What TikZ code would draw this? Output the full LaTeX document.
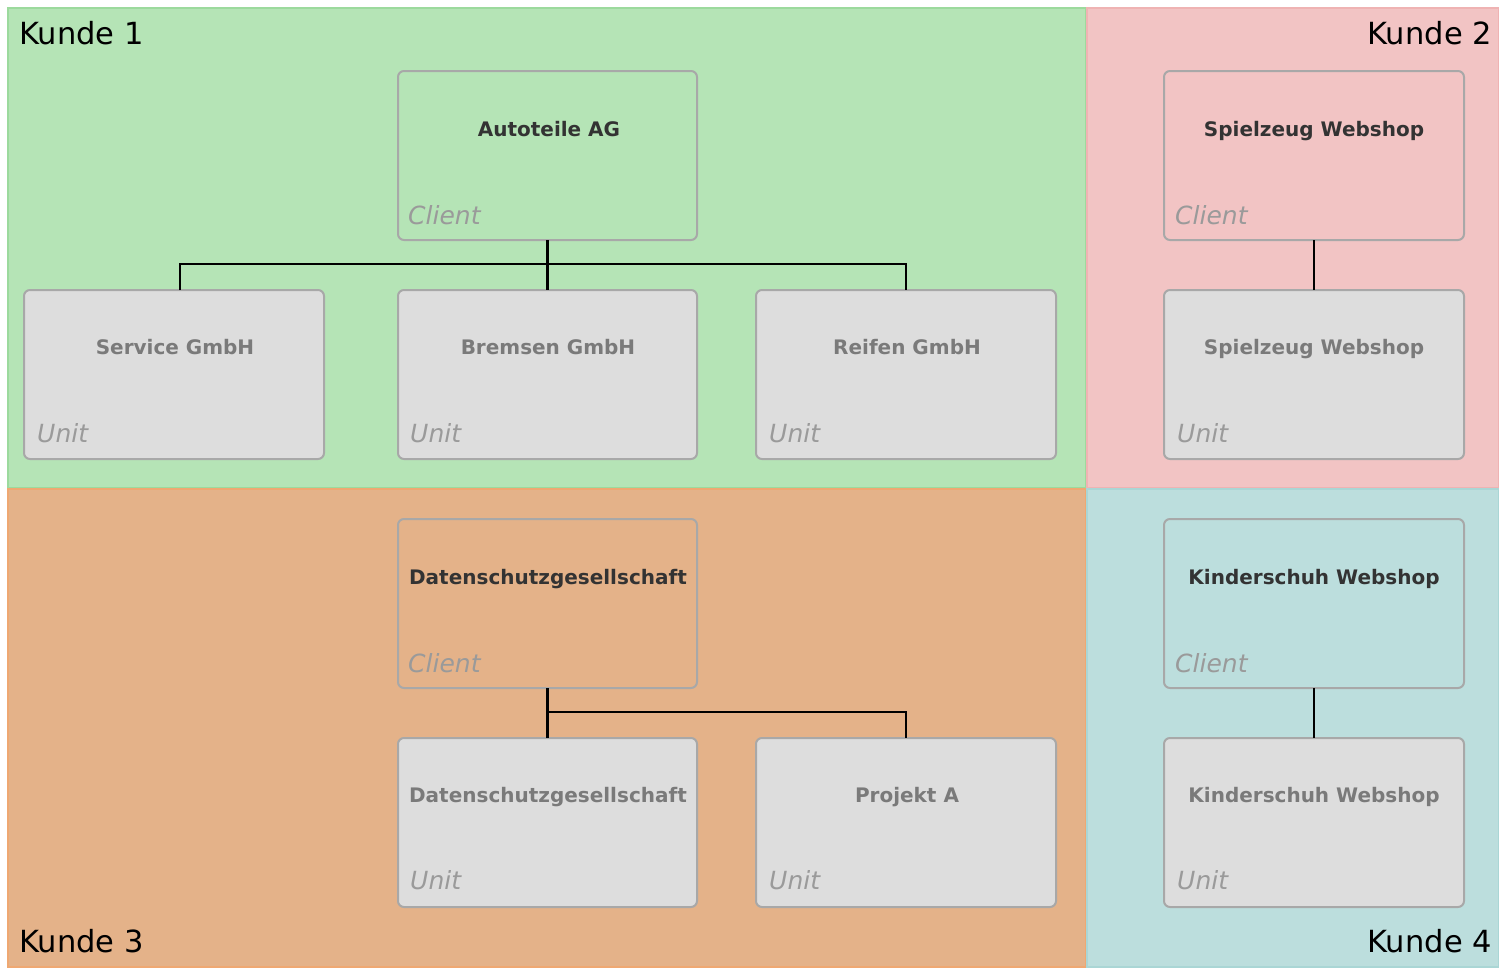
\documentclass[tikz,border=0pt]{standalone}
\usepackage{fontspec}
\usetikzlibrary{calc}
\setmainfont{DejaVu Sans}
\definecolor{kgreen}{HTML}{B5E4B6}
\definecolor{kgreenb}{HTML}{9CDA9D}
\definecolor{kpink}{HTML}{F2C4C4}
\definecolor{kpinkb}{HTML}{EFB3B3}
\definecolor{korange}{HTML}{E4B289}
\definecolor{korangeb}{HTML}{EFA872}
\definecolor{kteal}{HTML}{BCDEDD}
\definecolor{ktealb}{HTML}{AAD6D5}
\definecolor{boxline}{HTML}{A8A8A8}
\definecolor{unitfill}{HTML}{DDDDDD}
\definecolor{titledark}{HTML}{333333}
\definecolor{titlegray}{HTML}{7A7A7A}
\definecolor{typegray}{HTML}{9A9A9A}
\tikzset{
  region/.style={line width=1.5pt},
  orgbox/.style={draw=boxline, line width=2pt, rounded corners=6pt, minimum width=299pt, minimum height=169pt, inner sep=0pt, outer sep=0pt, anchor=north west},
  clientbox/.style={orgbox},
  unitbox/.style={orgbox, fill=unitfill},
  ctitle/.style={font=\fontsize{20}{23}\selectfont\bfseries, text=titledark, anchor=base, inner sep=0pt},
  utitle/.style={font=\fontsize{20}{23}\selectfont\bfseries, text=titlegray, anchor=base, inner sep=0pt},
  typelbl/.style={font=\fontsize{25}{29}\selectfont\itshape, text=typegray, anchor=base west, inner sep=0pt},
  kunde/.style={font=\fontsize{30.5}{34}\selectfont, text=black, inner sep=0pt},
  conn/.style={draw=black, line width=2.2pt}
}
\begin{document}
\begin{tikzpicture}[x=1pt,y=-1pt]
\useasboundingbox (0,0) rectangle (1499,967);
\fill[white] (0,0) rectangle (1499,967);
% regions
\filldraw[region, fill=kgreen, draw=kgreenb] (8,8) rectangle (1086,488);
\filldraw[region, fill=kpink, draw=kpinkb] (1087,8) rectangle (1499,488);
\filldraw[region, fill=korange, draw=korangeb] (8,489) rectangle (1086,967);
\filldraw[region, fill=kteal, draw=ktealb] (1087,489) rectangle (1499,967);
% region labels
\node[kunde, anchor=base west] (k1) at (19,44) {Kunde 1};
\node[kunde, anchor=base east] (k2) at (1492,44) {Kunde 2};
\node[kunde, anchor=base west] (k3) at (19,952) {Kunde 3};
\node[kunde, anchor=base east] (k4) at (1492,952) {Kunde 4};
% Kunde 1
\node[clientbox] (c1) at (398,71) {};
\node[ctitle] (c1t) at (549,136) {Autoteile AG};
\node[typelbl] (c1l) at (408,224) {Client};
\node[unitbox, minimum width=300pt] (u11) at (24,290) {};
\node[utitle] (u11t) at (175,354) {Service GmbH};
\node[typelbl] (u11l) at (37,442) {Unit};
\node[unitbox] (u12) at (398,290) {};
\node[utitle] (u12t) at (548,354) {Bremsen GmbH};
\node[typelbl] (u12l) at (410,442) {Unit};
\node[unitbox, minimum width=300pt] (u13) at (756,290) {};
\node[utitle] (u13t) at (907,354) {Reifen GmbH};
\node[typelbl] (u13l) at (769,442) {Unit};
\coordinate (b1) at ($(c1.south)+(0,24)$);
\coordinate (d11) at (180,290);
\draw[conn] (c1.south) -- (u12.north);
\draw[conn] (d11) |- (b1) -| (u13.north);
% Kunde 2
\node[clientbox, minimum width=300pt] (c2) at (1164,71) {};
\node[ctitle] (c2t) at (1314,136) {Spielzeug Webshop};
\node[typelbl] (c2l) at (1175,224) {Client};
\node[unitbox, minimum width=300pt] (u21) at (1164,290) {};
\node[utitle] (u21t) at (1314,354) {Spielzeug Webshop};
\node[typelbl] (u21l) at (1177,442) {Unit};
\draw[conn] (c2.south) -- (u21.north);
% Kunde 3
\node[clientbox] (c3) at (398,519) {};
\node[ctitle] (c3t) at (548,584) {Datenschutzgesellschaft};
\node[typelbl] (c3l) at (408,672) {Client};
\node[unitbox] (u31) at (398,738) {};
\node[utitle] (u31t) at (548,802) {Datenschutzgesellschaft};
\node[typelbl] (u31l) at (410,889) {Unit};
\node[unitbox, minimum width=300pt] (u32) at (756,738) {};
\node[utitle] (u32t) at (907,802) {Projekt A};
\node[typelbl] (u32l) at (769,889) {Unit};
\coordinate (b3) at ($(c3.south)+(0,24)$);
\draw[conn] (c3.south) -- (u31.north);
\draw[conn] (b3) -| (u32.north);
% Kunde 4
\node[clientbox, minimum width=300pt] (c4) at (1164,519) {};
\node[ctitle] (c4t) at (1314,584) {Kinderschuh Webshop};
\node[typelbl] (c4l) at (1175,672) {Client};
\node[unitbox, minimum width=300pt] (u41) at (1164,738) {};
\node[utitle] (u41t) at (1314,802) {Kinderschuh Webshop};
\node[typelbl] (u41l) at (1177,889) {Unit};
\draw[conn] (c4.south) -- (u41.north);
\end{tikzpicture}
\end{document}
